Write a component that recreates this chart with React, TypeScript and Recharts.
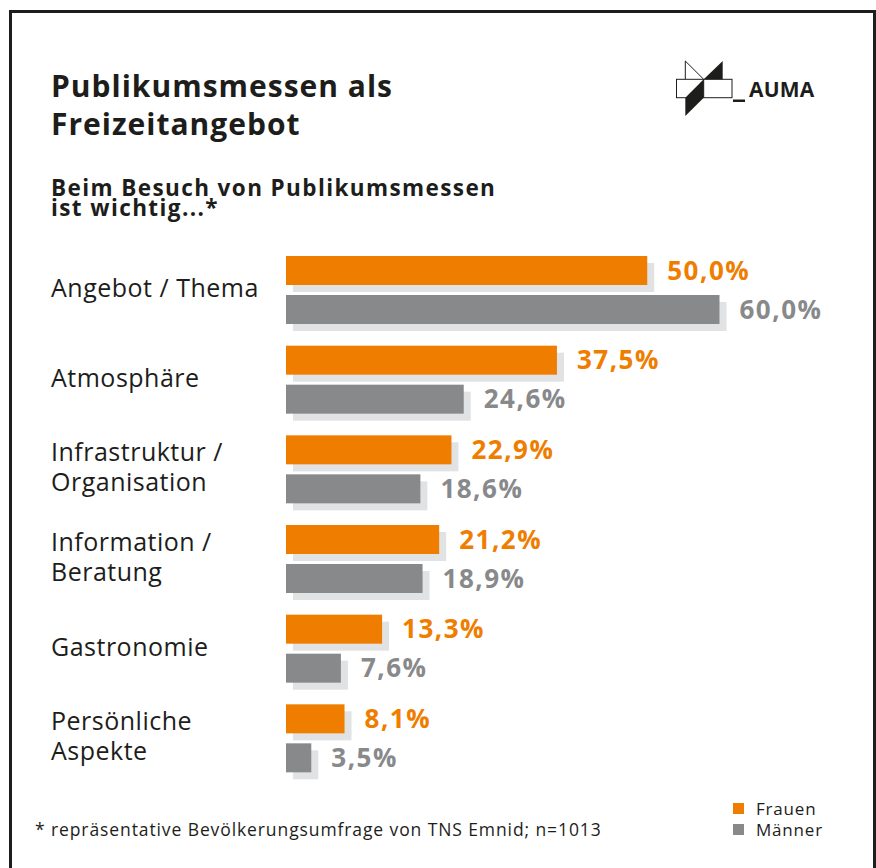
import { BarChart, Bar, XAxis, YAxis, LabelList } from 'recharts';

const categories = [
  'Angebot / Thema',
  'Atmosphäre',
  'Infrastruktur /\nOrganisation',
  'Information /\nBeratung',
  'Gastronomie',
  'Persönliche\nAspekte',
];
const frauen = [50.0, 37.5, 22.9, 21.2, 13.3, 8.1];
const maenner = [60.0, 24.6, 18.6, 18.9, 7.6, 3.5];
const seriesNames = ['Frauen', 'Männer'];

const ORANGE = '#ef7d00';
const GREY = '#88898b';
const SHADOW = '#e1e2e4';
const INK = '#1d1d1b';
const FONT = '"Open Sans", sans-serif';

const data = categories.map((category, i) => ({
  category,
  frauen: frauen[i],
  maenner: maenner[i],
}));

const fmt = (v: any) => `${Number(v).toFixed(1).replace('.', ',')}%`;

function CategoryTick({ y, payload }: any) {
  const lines = String(payload.value).split('\n');
  const first = lines.length === 1 ? y + 7 : y - 7.75;
  return (
    <text x={51} y={first} fill={INK} fontSize={25} letterSpacing={0.5} fontFamily={FONT} textAnchor="start">
      {lines.map((l, i) => (
        <tspan key={i} x={51} y={first + i * 29.5}>
          {l}
        </tspan>
      ))}
    </text>
  );
}

function ShadowBar(props: any) {
  const { x, y, width, height, fill } = props;
  if (!width || width <= 0) return null;
  return (
    <g>
      <rect x={x + 7} y={y + 7} width={width} height={height} fill={SHADOW} />
      <rect x={x} y={y} width={width} height={height} fill={fill} />
    </g>
  );
}

function Logo() {
  return (
    <g>
      <polyline points="685.3,79.3 685.3,61 703.7,79.3" fill="none" stroke={INK} strokeWidth={1} />
      <rect x={676.5} y={79.3} width={55.5} height={18.4} fill="#fff" stroke={INK} strokeWidth={1} />
      <line x1={703.7} y1={79.3} x2={703.7} y2={97.7} stroke={INK} strokeWidth={1} />
      <polygon points="722.7,61 722.7,79.3 703.7,79.3" fill={INK} />
      <polygon points="703.7,79.3 703.7,97.7 685.3,116 685.3,97.7" fill={INK} />
      <rect x={733} y={99.5} width={12} height={2.5} fill={INK} />
      <text x={749} y={97} fill={INK} fontSize={21} fontWeight={700} letterSpacing={0.2} fontFamily={FONT}>
        AUMA
      </text>
    </g>
  );
}

export default function App() {
  return (
    <div style={{ position: 'absolute', left: 0, top: 0, width: 876, height: 868, overflow: 'hidden', background: '#fff' }}>
      <div
        style={{
          position: 'absolute',
          left: 9,
          top: 10,
          width: 867,
          height: 880,
          boxSizing: 'border-box',
          border: `3px solid ${INK}`,
        }}
      />
      <div style={{ position: 'absolute', left: 0, top: 0 }}>
        <BarChart
          width={876}
          height={868}
          data={data}
          layout="vertical"
          margin={{ top: 245, right: 12, bottom: 85, left: 51 }}
          barSize={29}
          barGap={10}
          style={{ fontFamily: FONT }}
        >
          <XAxis type="number" domain={[0, 80]} hide />
          <YAxis
            type="category"
            dataKey="category"
            width={235}
            axisLine={false}
            tickLine={false}
            tick={<CategoryTick />}
            interval={0}
          />
          <Bar dataKey="frauen" name={seriesNames[0]} fill={ORANGE} shape={<ShadowBar />} isAnimationActive={false}>
            <LabelList
              dataKey="frauen"
              position="right"
              offset={20}
              formatter={fmt}
              fill={ORANGE}
              fontSize={26}
              fontWeight={700}
              letterSpacing={1.5}
              fontFamily={FONT}
            />
          </Bar>
          <Bar dataKey="maenner" name={seriesNames[1]} fill={GREY} shape={<ShadowBar />} isAnimationActive={false}>
            <LabelList
              dataKey="maenner"
              position="right"
              offset={20}
              formatter={fmt}
              fill={GREY}
              fontSize={26}
              fontWeight={700}
              letterSpacing={1.5}
              fontFamily={FONT}
            />
          </Bar>
        </BarChart>
      </div>
      <svg width={876} height={868} style={{ position: 'absolute', left: 0, top: 0, pointerEvents: 'none' }}>
        <g fontFamily={FONT} fill={INK}>
          <text x={51} y={97} fontSize={30} fontWeight={700} letterSpacing={1}>Publikumsmessen als</text>
          <text x={51} y={135} fontSize={30} fontWeight={700} letterSpacing={1}>Freizeitangebot</text>
          <text x={51} y={196} fontSize={22.5} fontWeight={700} letterSpacing={1.4}>Beim Besuch von Publikumsmessen</text>
          <text x={51} y={216} fontSize={22.5} fontWeight={700} letterSpacing={1.4}>ist wichtig...*</text>
          <text x={35} y={836} fontSize={17.5} letterSpacing={0.9}>* repräsentative Bevölkerungsumfrage von TNS Emnid; n=1013</text>
          <rect x={733} y={803} width={11} height={11} fill={ORANGE} />
          <text x={756} y={815} fontSize={17} letterSpacing={0.8}>{seriesNames[0]}</text>
          <rect x={733} y={824} width={11} height={11} fill={GREY} />
          <text x={756} y={836} fontSize={17} letterSpacing={0.8}>{seriesNames[1]}</text>
        </g>
        <Logo />
      </svg>
    </div>
  );
}
